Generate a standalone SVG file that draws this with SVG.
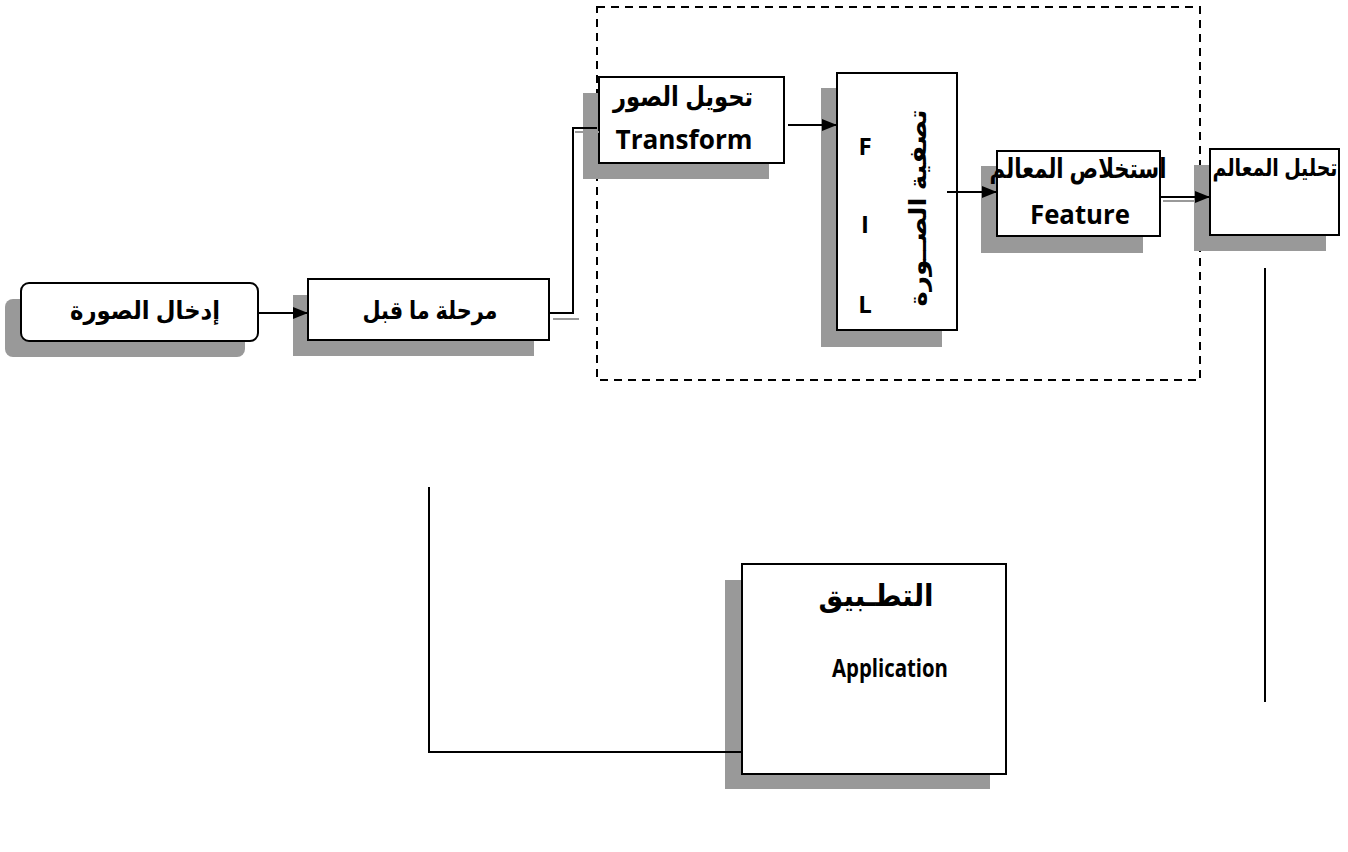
<svg xmlns="http://www.w3.org/2000/svg" width="1348" height="852" viewBox="0 0 1348 852">
<style>
.sh{fill:#999999;stroke:none}
.bx{fill:#ffffff;stroke:#000000;stroke-width:2}
.ar{font-family:"Liberation Sans","DejaVu Sans",sans-serif;font-weight:bold;fill:#000000}
.en{font-family:"Open Sans","Liberation Sans",sans-serif;font-weight:bold;fill:#000000}
.cn{fill:none;stroke:#000000;stroke-width:2}
.gr{fill:none;stroke:#999999;stroke-width:2}
</style>
<defs>
<marker id="ah" viewBox="0 0 15 12" refX="15" refY="6" markerWidth="15" markerHeight="12" markerUnits="userSpaceOnUse" orient="auto">
<path d="M0,0 L15,6 L0,12 Z" fill="#000000"/>
</marker>
</defs>
<rect x="0" y="0" width="1348" height="852" fill="#ffffff"/>

<g id="container">
<rect x="597" y="7" width="603" height="373" fill="none" stroke="#000000" stroke-width="2" stroke-dasharray="8,6"/>
</g>

<g id="input">
<rect class="sh" x="5" y="299" width="240" height="58" rx="8"/>
<rect class="bx" x="21" y="283" width="237" height="58" rx="8"/>
<text class="ar" x="145" y="319" font-size="25" text-anchor="middle" textLength="150" lengthAdjust="spacingAndGlyphs">إدخال الصورة</text>
</g>

<g id="preprocess">
<rect class="sh" x="293" y="295" width="241" height="61"/>
<rect class="bx" x="308" y="279" width="241" height="61"/>
<text class="ar" x="430" y="319" font-size="25" text-anchor="middle" textLength="135" lengthAdjust="spacingAndGlyphs">مرحلة ما قبل</text>
</g>

<g id="transform">
<rect class="sh" x="583" y="93" width="186" height="86"/>
<rect class="bx" x="599" y="77" width="185" height="86"/>
<text class="ar" x="683" y="106" font-size="27" text-anchor="middle" textLength="140" lengthAdjust="spacingAndGlyphs">تحويل الصور</text>
<text class="en" x="684" y="149" font-size="27" text-anchor="middle" textLength="137" lengthAdjust="spacingAndGlyphs">Transform</text>
</g>

<g id="filter">
<rect class="sh" x="821" y="88" width="121" height="259"/>
<rect class="bx" x="837" y="73" width="120" height="257"/>
<text class="en" x="865" y="155" font-size="24" text-anchor="middle">F</text>
<text class="en" x="865" y="233" font-size="24" text-anchor="middle">I</text>
<text class="en" x="865" y="313" font-size="24" text-anchor="middle">L</text>
<text class="ar" x="0" y="0" font-size="24" text-anchor="middle" textLength="197" lengthAdjust="spacingAndGlyphs" transform="translate(926,208) rotate(-90)">تصفية الصــورة</text>
</g>

<g id="feature">
<rect class="sh" x="981" y="166" width="162" height="87"/>
<rect class="bx" x="997" y="151" width="163" height="85"/>
<text class="ar" x="1078" y="178" font-size="27" text-anchor="middle" textLength="177" lengthAdjust="spacingAndGlyphs">استخلاص المعالم</text>
<text class="en" x="1080" y="224" font-size="26" text-anchor="middle" textLength="100" lengthAdjust="spacingAndGlyphs">Feature</text>
</g>

<g id="analysis">
<rect class="sh" x="1194" y="165" width="132" height="86"/>
<rect class="bx" x="1210" y="149" width="129" height="86"/>
<text class="ar" x="1275" y="176" font-size="24" text-anchor="middle" textLength="125" lengthAdjust="spacingAndGlyphs">تحليل المعالم</text>
</g>

<g id="application">
<rect class="sh" x="725" y="580" width="265" height="209"/>
<rect class="bx" x="742" y="564" width="264" height="210"/>
<text class="ar" x="876" y="606" font-size="30" text-anchor="middle" textLength="115" lengthAdjust="spacingAndGlyphs">التطـبيق</text>
<text class="en" x="890" y="677" font-size="25" text-anchor="middle" textLength="116" lengthAdjust="spacingAndGlyphs">Application</text>
</g>

<g id="connectors">
<line class="cn" x1="258" y1="313" x2="308" y2="313" marker-end="url(#ah)"/>
<polyline class="cn" points="549,313 573,313 573,128 597,128"/>
<line class="gr" x1="553" y1="319" x2="579" y2="319"/>
<line class="gr" x1="575" y1="132" x2="599" y2="132"/>
<line class="cn" x1="788" y1="125" x2="837" y2="125" marker-end="url(#ah)"/>
<line class="cn" x1="947" y1="192" x2="997" y2="192" marker-end="url(#ah)"/>
<line class="gr" x1="1163" y1="201" x2="1205" y2="201"/>
<line class="cn" x1="1160" y1="197" x2="1210" y2="197" marker-end="url(#ah)"/>
<line class="cn" x1="1265" y1="268" x2="1265" y2="702"/>
<polyline class="cn" points="429,487 429,752 742,752"/>
</g>
</svg>
